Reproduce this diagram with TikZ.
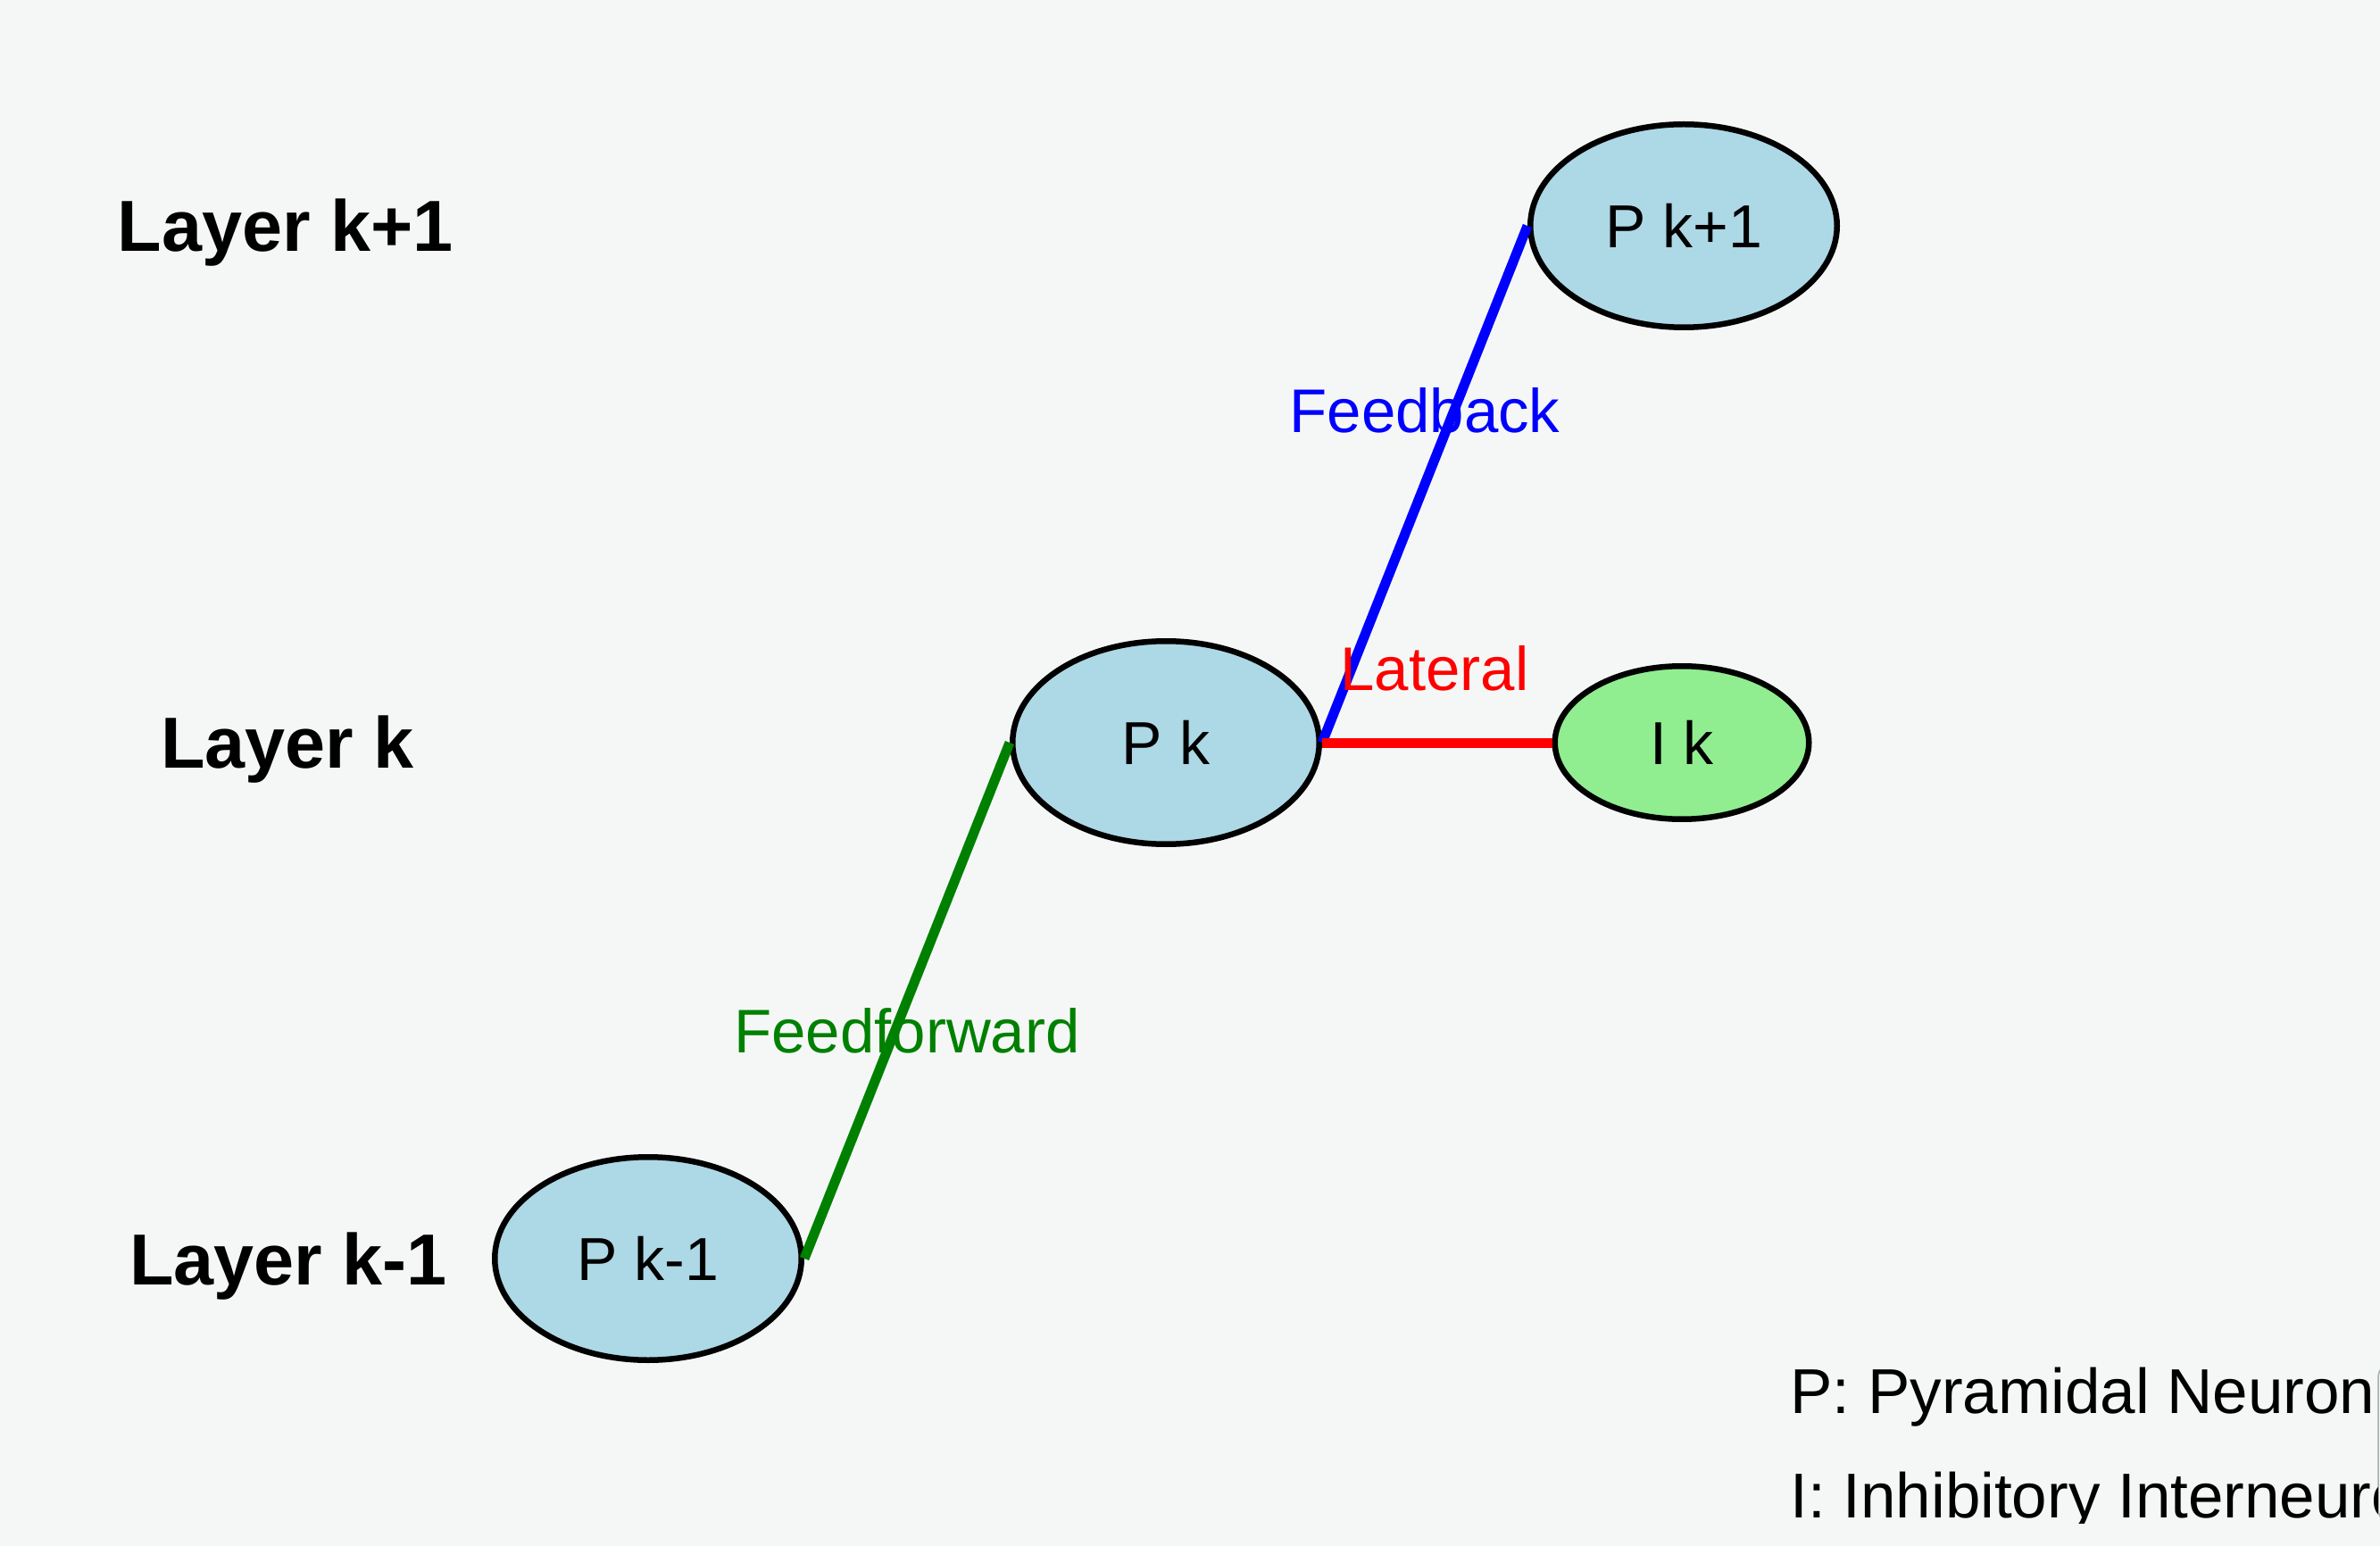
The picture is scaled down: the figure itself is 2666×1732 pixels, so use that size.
\documentclass[tikz,border=0pt]{standalone}
\usepackage{fontspec}
\setmainfont{Liberation Sans}
\usetikzlibrary{shapes.geometric}
\definecolor{bg}{RGB}{245,247,246}
\definecolor{nodeblue}{RGB}{173,216,230}
\definecolor{nodegreen}{RGB}{144,238,144}
\definecolor{ffgreen}{RGB}{0,128,0}
\definecolor{legendgray}{RGB}{165,175,172}
\begin{document}
\begin{tikzpicture}[x=0.5pt,y=-0.5pt,
  neuron/.style={ellipse,draw=black,line width=3.25pt,inner sep=0pt,font=\fontsize{34}{40}\selectfont},
  pyr/.style={neuron,fill=nodeblue,minimum width=171.75pt,minimum height=113.75pt},
  inh/.style={neuron,fill=nodegreen,minimum width=142.25pt,minimum height=85.75pt},
  layerlabel/.style={font=\bfseries\fontsize{40.5}{48}\selectfont,anchor=base,inner sep=0pt},
  conn/.style={line width=5.5pt},
  edgelabel/.style={font=\fontsize{34.5}{40}\selectfont,anchor=base,inner sep=0pt},
  legendtext/.style={font=\fontsize{35.5}{42}\selectfont,anchor=base west,inner sep=0pt}]
\useasboundingbox (0,0) rectangle (2666,1732);
\clip (0,0) rectangle (2666,1732);
\fill[bg] (0,0) rectangle (2666,1732);
% layer labels
\node[layerlabel] (l1) at (320,282) {Layer k+1};
\node[layerlabel] (l0) at (322,860) {Layer k};
\node[layerlabel] (lm) at (323,1439) {Layer k-1};
% neurons
\node[pyr] (pk1) at (1886,253) {P k+1};
\node[pyr] (pk) at (1306,832) {P k};
\node[pyr] (pkm1) at (726,1410) {P k-1};
\node[inh] (ik) at (1884,832) {I k};
% connections
\draw[conn,ffgreen] (pkm1.east) -- (pk.west);
\draw[conn,blue] (pk.east) -- (pk1.west);
\draw[conn,red] (pk.east) -- (ik.west);
% connection labels
\node[edgelabel,text=blue] (fb) at (1596,485) {Feedback};
\node[edgelabel,text=red] (lat) at (1607,774) {Lateral};
\node[edgelabel,text=ffgreen] (ff) at (1016,1179) {Feedforward};
% legend
\draw[legendgray,line width=0.75pt,rounded corners=8pt] (2664,1527) rectangle (2950,1707);
\begin{scope}
\clip (0,0) rectangle (2663,1706);
\node[legendtext] (lp) at (2005,1583) {P: Pyramidal Neuron};
\node[legendtext] (li) at (2005,1700) {I: Inhibitory Interneuron};
\end{scope}
\end{tikzpicture}
\end{document}
